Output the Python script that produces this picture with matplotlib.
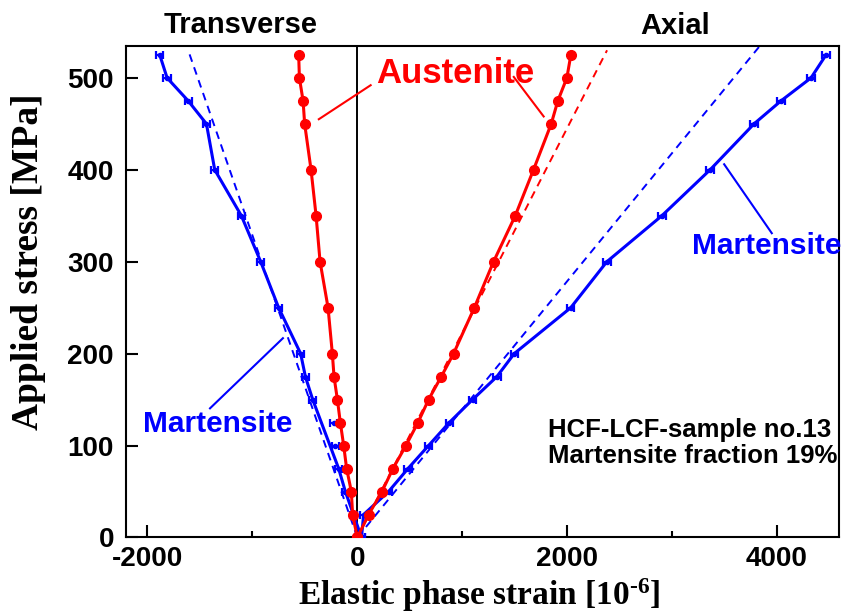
import matplotlib
matplotlib.use("Agg")
import matplotlib.pyplot as plt

# ---------------- data ----------------
stress = [0, 25, 50, 75, 100, 125, 150, 175, 200, 250, 300, 350, 400, 450, 475, 500, 525]

aust_trans = [0, -45, -57, -102, -130, -162, -190, -222, -238, -279, -355, -393, -441, -502, -517, -552, -559]
aust_axial = [0, 108, 235, 340, 463, 578, 679, 800, 917, 1115, 1298, 1505, 1679, 1848, 1911, 1997, 2035]

mart_trans = [40, -37, -114, -178, -210, -225, -425, -495, -540, -750, -921, -1105, -1359, -1438, -1612, -1813, -1883]
mart_axial = [40, 60, 298, 483, 679, 876, 1098, 1330, 1495, 2034, 2378, 2902, 3362, 3781, 4038, 4324, 4467]
mart_err = 35
# transverse martensite points not joined by the line in the original figure
mart_trans_unjoined = [100, 125]

# linear-elastic reference lines (start, end)
fit_aust_axial_x = [0, 2380]
fit_aust_axial_y = [0, 530]
fit_mart_axial_x = [0, 3838]
fit_mart_axial_y = [0, 535]
fit_mart_trans_x = [0, -1600]
fit_mart_trans_y = [0, 526]

x_ticks = [-2000, 0, 2000, 4000]
y_ticks = [0, 100, 200, 300, 400, 500]

RED = "#ff0000"
BLUE = "#0000ff"
SANS = "Liberation Sans"
SERIF = "Liberation Serif"

plt.rcParams["mathtext.fontset"] = "custom"
plt.rcParams["mathtext.rm"] = "Liberation Serif:bold"
plt.rcParams["mathtext.it"] = "Liberation Serif:bold"
plt.rcParams["mathtext.bf"] = "Liberation Serif:bold"

fig = plt.figure(figsize=(8.5, 6.14), dpi=100)
ax = fig.add_axes([0.1488, 0.1246, 0.987 - 0.1488, 0.9256 - 0.1246])

# reference (dashed) lines
ax.plot(fit_aust_axial_x, fit_aust_axial_y, ls=(0, (4, 3)), color=RED, lw=1.4, zorder=2)
ax.plot(fit_mart_axial_x, fit_mart_axial_y, ls=(0, (4, 3)), color=BLUE, lw=1.4, zorder=2)
ax.plot(fit_mart_trans_x, fit_mart_trans_y, ls=(0, (4, 3)), color=BLUE, lw=1.4, zorder=2)

# martensite
line_x = [x for x, s in zip(mart_trans, stress) if s not in mart_trans_unjoined]
line_y = [s for s in stress if s not in mart_trans_unjoined]
ax.plot(line_x, line_y, color=BLUE, lw=2.2, zorder=3)
ax.plot(mart_axial, stress, color=BLUE, lw=2.2, zorder=3)
for xs in (mart_trans, mart_axial):
    ax.errorbar(xs, stress, xerr=mart_err, color=BLUE, fmt="o", ms=3,
                capsize=3, elinewidth=1.6, capthick=1.6, zorder=3)

# austenite
for xs in (aust_trans, aust_axial):
    ax.plot(xs, stress, color=RED, lw=2.2, marker="o", ms=7, zorder=4)

ax.axvline(0, color="black", lw=1.4, zorder=1)

ax.set_xlim(-2200, 4590)
ax.set_ylim(0, 535)
ax.set_xticks(x_ticks)
ax.set_xticks([-1000, 1000, 3000], minor=True)
ax.set_yticks(y_ticks)
ax.set_xticklabels([str(v) for v in x_ticks], fontfamily=SANS, fontweight="bold", fontsize=20)
ax.set_yticklabels([str(v) for v in y_ticks], fontfamily=SANS, fontweight="bold", fontsize=20)
ax.tick_params(which="major", direction="in", length=8.6, width=1.5)
ax.tick_params(which="minor", direction="in", length=4.3, width=1.5)
ax.tick_params(axis="y", pad=9)
ax.tick_params(axis="x", pad=6)
for s in ax.spines.values():
    s.set_linewidth(1.5)

ax.set_xlabel(r"Elastic phase strain [10$^{\text{-6}}$]", fontfamily=SERIF, fontweight="bold",
              fontsize=24)
ax.xaxis.set_label_coords((479 - 126.5) / 712.5, (537.5 - 576) / 491.8)
ax.set_ylabel("Applied stress [MPa]", fontfamily=SERIF, fontweight="bold", fontsize=27)
ax.yaxis.set_label_coords((46 - 126.5) / 712.5, (537.5 - 262) / 491.8)

# annotations
ax.text(-1109, 557, "Transverse", fontfamily=SANS, fontweight="bold", fontsize=21,
        ha="center", va="center", clip_on=False)
ax.text(3030, 556, "Axial", fontfamily=SANS, fontweight="bold", fontsize=21,
        ha="center", va="center", clip_on=False)

ax.text(936, 505, "Austenite", color=RED, fontfamily=SANS, fontweight="bold", fontsize=25,
        ha="center", va="center")
ax.plot([127, -367], [492, 455], color=RED, lw=1.5)
ax.plot([1491, 1776], [501, 458], color=RED, lw=1.5)

ax.text(-1328, 123, "Martensite", color=BLUE, fontfamily=SANS, fontweight="bold", fontsize=21.5,
        ha="center", va="center")
ax.plot([-1404, -709], [140.5, 216.8], color=BLUE, lw=1.5)

ax.text(3905, 317, "Martensite", color=BLUE, fontfamily=SANS, fontweight="bold", fontsize=21.5,
        ha="center", va="center")
ax.plot([3496, 3950], [406, 331], color=BLUE, lw=1.5)

ax.text(1821, 109, "HCF-LCF-sample no.13", fontfamily=SANS, fontweight="bold", fontsize=18.5,
        ha="left", va="baseline")
ax.text(1821, 80.6, "Martensite fraction 19%", fontfamily=SANS, fontweight="bold", fontsize=18.5,
        ha="left", va="baseline")

fig.savefig("out.png", dpi=100)
